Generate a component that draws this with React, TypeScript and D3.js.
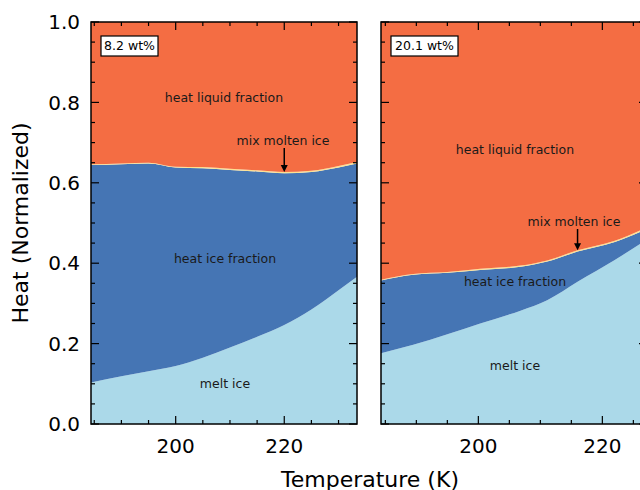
import React from 'react';
import * as d3 from 'd3';

// left panel (8.2 wt%)
const tempsA = [184.4, 190, 195, 200, 205, 210, 215, 220, 225, 230, 233.4];
const meltA = [0.103, 0.119, 0.131, 0.144, 0.165, 0.19, 0.217, 0.246, 0.285, 0.333, 0.366];
const iceA = [0.541, 0.527, 0.517, 0.494, 0.471, 0.442, 0.411, 0.378, 0.342, 0.305, 0.282];
const mixA = [0.002, 0.002, 0.002, 0.002, 0.003, 0.003, 0.003, 0.003, 0.003, 0.004, 0.004];
const liquidA = [0.354, 0.352, 0.35, 0.36, 0.361, 0.365, 0.369, 0.373, 0.37, 0.358, 0.348];

// right panel (20.1 wt%)
const tempsB = [184.3, 189.5, 195, 200.3, 206.8, 211.1, 216, 222, 227.3];
const meltB = [0.176, 0.197, 0.223, 0.25, 0.282, 0.308, 0.354, 0.408, 0.46];
const iceB = [0.181, 0.174, 0.153, 0.133, 0.109, 0.096, 0.075, 0.045, 0.026];
const mixB = [0.002, 0.002, 0.002, 0.003, 0.003, 0.003, 0.003, 0.003, 0.004];
const liquidB = [0.641, 0.627, 0.622, 0.614, 0.606, 0.593, 0.568, 0.544, 0.51];

const seriesKeys = ['melt', 'ice', 'mix', 'liquid'];
const seriesColors: Record<string, string> = {
  melt: '#abd9e9',
  ice: '#4575b4',
  mix: '#fee090',
  liquid: '#f46d43',
};

const yTicksMajor = [0, 0.2, 0.4, 0.6, 0.8, 1.0];
const xTicksMajor = [200, 220];

const FONT = 'DejaVu Sans, sans-serif';

interface PanelProps {
  x0: number;
  width: number;
  domain: [number, number];
  temps: number[];
  melt: number[];
  ice: number[];
  mix: number[];
  liquid: number[];
  tag: string;
  tagWidth: number;
  showYLabels: boolean;
  labels: { liquid: [number, number]; mix: [number, number]; ice: [number, number]; melt: [number, number] };
  arrowT: number;
}

const top = 22;
const bottom = 424;

const Panel: React.FC<PanelProps> = (p) => {
  const x = d3.scaleLinear().domain(p.domain).range([p.x0, p.x0 + p.width]);
  const y = d3.scaleLinear().domain([0, 1]).range([bottom, top]);

  const rows = p.temps.map((t, i) => ({
    t,
    melt: p.melt[i],
    ice: p.ice[i],
    mix: p.mix[i],
    liquid: p.liquid[i],
  }));
  const stacked = d3.stack<any>().keys(seriesKeys)(rows);
  const area = d3
    .area<any>()
    .x((d) => x(d.data.t))
    .y0((d) => y(d[0]))
    .y1((d) => y(d[1]))
    .curve(d3.curveMonotoneX);

  const minorX = d3.range(185, p.domain[1] + 0.01, 5).filter((v) => v % 20 !== 0);
  const minorY = d3.range(0, 1.001, 0.05).filter((v) => Math.abs(Math.round(v * 5) - v * 5) > 1e-6);
  const right = p.x0 + p.width;
  const clipId = `clip-${p.tag.replace(/[^0-9]/g, '')}`;

  // arrow tip on the ice/mix boundary
  const mixLayer = stacked[2];
  const idx = d3.bisector((d: any) => d.data.t).left(mixLayer, p.arrowT);
  const a = mixLayer[Math.max(idx - 1, 0)];
  const b = mixLayer[Math.min(idx, mixLayer.length - 1)];
  const f = b.data.t === a.data.t ? 0 : (p.arrowT - a.data.t) / (b.data.t - a.data.t);
  const tipY = y(a[1] + (b[1] - a[1]) * f);
  const ax = x(p.arrowT);

  return (
    <g>
      <defs>
        <clipPath id={clipId}>
          <rect x={p.x0} y={top} width={p.width} height={bottom - top} />
        </clipPath>
      </defs>
      <g clipPath={`url(#${clipId})`}>
        {stacked.map((s) => (
          <path key={s.key} d={area(s) || ''} fill={seriesColors[s.key]} />
        ))}
      </g>

      {/* annotations */}
      <g fontFamily={FONT} fontSize={12.5} fill="#1a1a1a" textAnchor="middle">
        <text x={p.labels.liquid[0]} y={p.labels.liquid[1]} dy="0.35em">heat liquid fraction</text>
        <text x={p.labels.mix[0]} y={p.labels.mix[1]} dy="0.35em">mix molten ice</text>
        <text x={p.labels.ice[0]} y={p.labels.ice[1]} dy="0.35em">heat ice fraction</text>
        <text x={p.labels.melt[0]} y={p.labels.melt[1]} dy="0.35em">melt ice</text>
      </g>
      <line x1={ax} x2={ax} y1={p.labels.mix[1] + 7} y2={tipY - 6} stroke="#000" strokeWidth={1.5} />
      <path d={`M${ax - 3.5},${tipY - 7} L${ax + 3.5},${tipY - 7} L${ax},${tipY} Z`} fill="#000" />

      {/* tag box */}
      <rect x={p.x0 + 10} y={36} width={p.tagWidth} height={20} fill="#fff" stroke="#000" strokeWidth={1.2} />
      <text x={p.x0 + 10 + p.tagWidth / 2} y={46} dy="0.35em" textAnchor="middle" fontFamily={FONT} fontSize={12.5} fill="#000">{p.tag}</text>

      {/* ticks */}
      <g stroke="#000" strokeWidth={1.2}>
        {xTicksMajor.map((v) => (
          <g key={`xm${v}`}>
            <line x1={x(v)} x2={x(v)} y1={bottom} y2={bottom - 8} />
            <line x1={x(v)} x2={x(v)} y1={top} y2={top + 8} />
          </g>
        ))}
        {minorX.map((v) => (
          <g key={`xn${v}`}>
            <line x1={x(v)} x2={x(v)} y1={bottom} y2={bottom - 4} />
            <line x1={x(v)} x2={x(v)} y1={top} y2={top + 4} />
          </g>
        ))}
        {yTicksMajor.map((v) => (
          <g key={`ym${v}`}>
            <line x1={p.x0} x2={p.x0 + 8} y1={y(v)} y2={y(v)} />
            <line x1={right} x2={right - 8} y1={y(v)} y2={y(v)} />
          </g>
        ))}
        {minorY.map((v) => (
          <g key={`yn${v}`}>
            <line x1={p.x0} x2={p.x0 + 4} y1={y(v)} y2={y(v)} />
            <line x1={right} x2={right - 4} y1={y(v)} y2={y(v)} />
          </g>
        ))}
      </g>

      <rect x={p.x0} y={top} width={p.width} height={bottom - top} fill="none" stroke="#000" strokeWidth={1.5} />

      {/* tick labels */}
      <g fontFamily={FONT} fontSize={20} fill="#000">
        {xTicksMajor.map((v) => (
          <text key={`xl${v}`} x={x(v)} y={bottom + 29} textAnchor="middle">{v}</text>
        ))}
        {p.showYLabels &&
          yTicksMajor.map((v) => (
            <text key={`yl${v}`} x={p.x0 - 11} y={y(v)} dy="0.36em" textAnchor="end">{v.toFixed(1)}</text>
          ))}
      </g>
    </g>
  );
};

export default function App() {
  return (
    <svg width={640} height={490} style={{ display: 'block', position: 'absolute', left: 0, top: 0, background: '#fff' }}>
      <Panel
        x0={91}
        width={266}
        domain={[184.4, 233.4]}
        temps={tempsA}
        melt={meltA}
        ice={iceA}
        mix={mixA}
        liquid={liquidA}
        tag="8.2 wt%"
        tagWidth={57}
        showYLabels
        labels={{ liquid: [224, 98], mix: [283, 141], ice: [225, 259], melt: [225, 384] }}
        arrowT={220}
      />
      <Panel
        x0={381}
        width={266}
        domain={[184.3, 227.2]}
        temps={tempsB}
        melt={meltB}
        ice={iceB}
        mix={mixB}
        liquid={liquidB}
        tag="20.1 wt%"
        tagWidth={67}
        showYLabels={false}
        labels={{ liquid: [515, 150], mix: [574, 222], ice: [515, 282], melt: [515, 366] }}
        arrowT={216}
      />
      <text x={370} y={487} textAnchor="middle" fontFamily={FONT} fontSize={22} fill="#000">Temperature (K)</text>
      <text transform="translate(28,223) rotate(-90)" textAnchor="middle" fontFamily={FONT} fontSize={22} fill="#000">Heat (Normalized)</text>
    </svg>
  );
}
